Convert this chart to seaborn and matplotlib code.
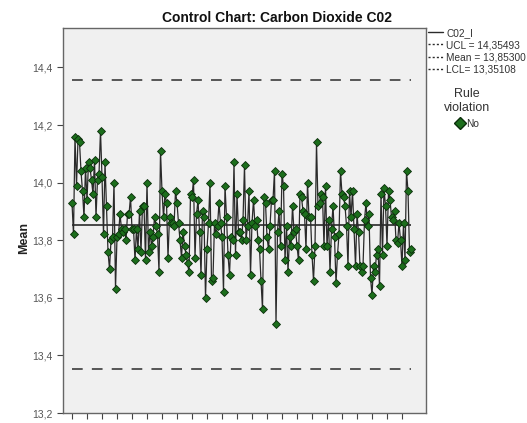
import matplotlib
matplotlib.use("Agg")
import matplotlib.pyplot as plt
import seaborn as sns
import pandas as pd
from matplotlib.lines import Line2D

# CO2 subgroup means left to right
co2_part1 = [13.93, 13.82, 14.16, 13.99, 14.15, 14.14, 14.04, 13.97, 13.88, 14.05,
             13.94, 14.07, 14.05, 14.01, 13.96, 14.08, 13.88, 14.01, 14.03, 14.18,
             14.02, 13.82, 14.07, 13.92, 13.76, 13.70, 13.80, 13.81, 14.00, 13.63,
             13.81, 13.82, 13.89, 13.84, 13.83]
co2_part2 = [13.84, 13.80, 13.89, 13.89, 13.95, 13.84, 13.84, 13.73, 13.84, 13.77,
             13.90, 13.76, 13.92, 13.92, 13.73, 14.00, 13.76, 13.83, 13.78, 13.81,
             13.88, 13.85, 13.82, 13.69, 14.11, 13.97, 13.88, 13.96, 13.93, 13.74,
             13.88, 13.86, 13.86, 13.85, 13.97, 13.93, 13.86, 13.80, 13.74]
co2_part3 = [13.83, 13.78, 13.75, 13.72, 13.69, 13.96, 13.95, 14.01, 13.74, 13.89,
             13.94, 13.83, 13.68, 13.90, 13.88, 13.60, 13.77, 13.86, 14.00, 13.66,
             13.67, 13.86, 13.82, 13.85, 13.93, 13.86, 13.81, 13.62, 13.99, 13.88,
             13.75, 13.68, 13.81, 13.80, 14.07, 13.75, 13.96, 13.83]
co2_part4 = [13.83, 13.80, 13.87, 14.06, 13.80, 13.85, 13.97, 13.68, 13.86, 13.94,
             13.85, 13.87, 13.80, 13.77, 13.66, 13.56, 13.95, 13.93, 13.81, 13.77,
             13.85, 13.94, 13.94, 14.04, 13.51, 13.83, 13.90, 13.78, 14.03, 13.99,
             13.73, 13.85, 13.69, 13.81, 13.78, 13.92, 13.83]
co2_part5 = [13.84, 13.78, 13.73, 13.96, 13.95, 13.90, 13.89, 13.77, 14.00, 13.88,
             13.88, 13.75, 13.66, 13.78, 14.14, 13.92, 13.93, 13.96, 13.95, 13.78,
             13.99, 13.78, 13.87, 13.69, 13.84, 13.92, 13.81, 13.65, 13.75, 13.82,
             14.04, 13.96, 13.95, 13.92, 13.85, 13.71, 13.97, 13.88]
co2_part6 = [13.97, 13.84, 13.71, 13.89, 13.83, 13.71, 13.69, 13.71, 13.87, 13.93,
             13.85, 13.89, 13.67, 13.61, 13.71, 13.69, 13.75, 13.77, 13.64, 13.96,
             13.75, 13.98, 13.92, 13.78, 13.97, 13.94, 13.88, 13.87, 13.90, 13.80,
             13.79, 13.86, 13.80, 13.71, 13.86, 13.73, 14.04, 13.97, 13.76, 13.77]

co2_values = co2_part1 + co2_part2 + co2_part3 + co2_part4 + co2_part5 + co2_part6
samples = list(range(1, len(co2_values) + 1))

ucl = 14.35493
mean_cl = 13.85300
lcl = 13.35108

y_ticks = [13.2, 13.4, 13.6, 13.8, 14.0, 14.2, 14.4]
y_tick_labels = ["13,2", "13,4", "13,6", "13,8", "14,0", "14,2", "14,4"]
x_ticks = list(range(1, 222, 10))
x_tick_labels = [str(t) for t in x_ticks]

df = pd.DataFrame({"sample": samples, "co2": co2_values})

sns.set_theme(style="white")
plt.rcParams["font.family"] = ["Liberation Sans", "DejaVu Sans"]

W, H = 527, 423
fig = plt.figure(figsize=(W / 100, H / 100), dpi=100)
ax = fig.add_axes([63 / W, 1 - 413 / H, (426 - 63) / W, (413 - 28) / H])
ax.set_facecolor("#f0f0f0")

line_col = "#2b2b2b"
ax.hlines(mean_cl, samples[0], samples[-1], color=line_col, lw=1.2, zorder=2)
ax.hlines([ucl, lcl], samples[0], samples[-1], color=line_col, lw=1.1,
          linestyles=(0, (7, 6)), zorder=2)

sns.lineplot(data=df, x="sample", y="co2", ax=ax, color="#2a2a2a", linewidth=0.9,
             marker="D", markersize=4.5, markerfacecolor="#1c6e1c",
             markeredgecolor="#0b2e0b", markeredgewidth=0.6, zorder=3, legend=False)

ax.set_xlim(-5, 237)
ax.set_ylim(13.2, 14.537)
ax.set_yticks(y_ticks)
ax.set_yticklabels(y_tick_labels)
ax.set_xticks(x_ticks)
ax.set_xticklabels(x_tick_labels, rotation=90)
ax.tick_params(axis="both", direction="out", length=4, width=0.8, color="#444444",
               labelsize=7.5, labelcolor="#555555", bottom=True, left=True)
ax.set_xlabel("")
ax.set_ylabel("Mean", fontweight="bold", fontsize=9, color="#222222")
ax.yaxis.set_label_coords(-33 / 363, 0.455)
for sp in ax.spines.values():
    sp.set_color("#666666")
    sp.set_linewidth(1.0)

fig.text(277 / W, 1 - 18 / H, "Control Chart: Carbon Dioxide C02", ha="center",
         va="center", fontweight="bold", fontsize=10, color="#111111")

dash = (0, (1.5, 1.5))
handles = [Line2D([], [], color=line_col, lw=1.0),
           Line2D([], [], color=line_col, lw=1.0, linestyle=dash),
           Line2D([], [], color=line_col, lw=1.0, linestyle=dash),
           Line2D([], [], color=line_col, lw=1.0, linestyle=dash)]
labels = ["C02_I", "UCL = 14,35493", "Mean = 13,85300", "LCL= 13,35108"]
leg1 = fig.legend(handles, labels, loc="upper left", bbox_to_anchor=(428 / W, 1 - 28 / H),
                  frameon=False, fontsize=7.3, handlelength=1.5, handletextpad=0.3,
                  labelspacing=0.2, borderaxespad=0, borderpad=0)
for t in leg1.get_texts():
    t.set_color("#333333")

rule_handle = [Line2D([], [], linestyle="none", marker="D", markersize=6,
                      markerfacecolor="#1c6e1c", markeredgecolor="#0b2e0b")]
leg2 = fig.legend(rule_handle, ["No"], loc="upper center", bbox_to_anchor=(467 / W, 1 - 88 / H),
                  frameon=False, fontsize=7.3, title="Rule\nviolation", title_fontsize=9,
                  alignment="center", handlelength=1.0, handletextpad=0.1,
                  borderaxespad=0, borderpad=0)
leg2.get_title().set_color("#333333")
leg2.get_title().set_multialignment("center")
for t in leg2.get_texts():
    t.set_color("#333333")

fig.savefig("out.png", dpi=100)
